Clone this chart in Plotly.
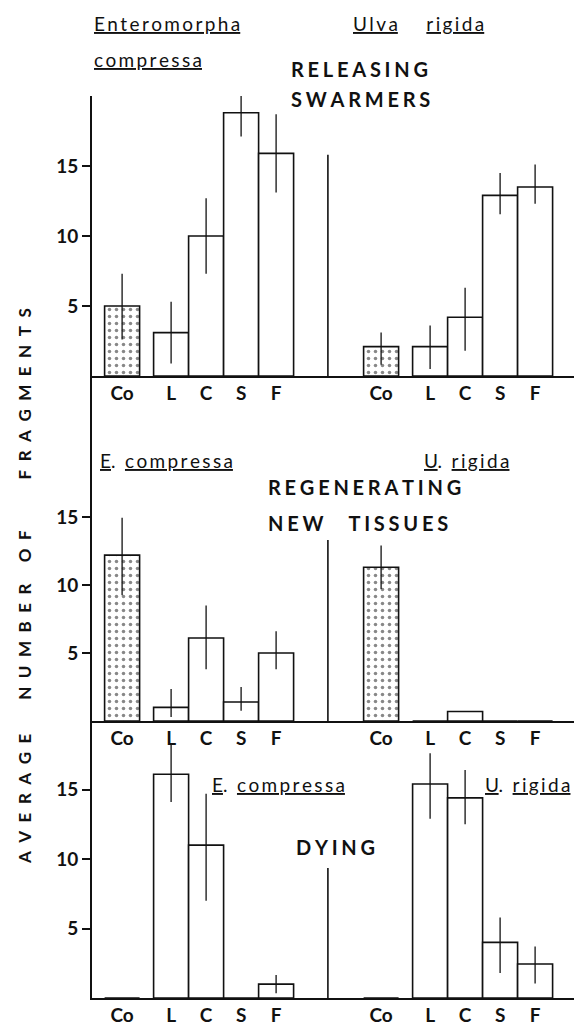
import plotly.graph_objects as go

# ---------------- data ----------------
categories = ["Co", "L", "C", "S", "F"]

# Panel 1: releasing swarmers
rel_ec = [5.0, 3.1, 10.0, 18.8, 15.9]
rel_ec_up = [2.3, 2.2, 2.7, 1.9, 2.8]
rel_ec_dn = [2.4, 2.2, 2.7, 1.7, 2.8]
rel_ur = [2.1, 2.1, 4.2, 12.9, 13.5]
rel_ur_up = [1.0, 1.5, 2.1, 1.6, 1.6]
rel_ur_dn = [1.3, 1.6, 2.4, 1.35, 1.2]

# Panel 2: regenerating new tissues
reg_ec = [12.2, 1.0, 6.1, 1.4, 5.0]
reg_ec_up = [2.75, 1.35, 2.4, 1.1, 1.6]
reg_ec_dn = [2.95, 0.7, 2.3, 0.64, 1.2]
reg_ur = [11.3, 0.0, 0.7, 0.0, 0.0]
reg_ur_up = [1.6, 0.0, 0.0, 0.0, 0.0]
reg_ur_dn = [1.6, 0.0, 0.0, 0.0, 0.0]

# Panel 3: dying
dy_ec = [0.0, 16.1, 11.0, 0.0, 1.0]
dy_ec_up = [0.0, 2.1, 3.7, 0.0, 0.65]
dy_ec_dn = [0.0, 2.0, 4.0, 0.0, 0.65]
dy_ur = [0.0, 15.4, 14.4, 4.0, 2.45]
dy_ur_up = [0.0, 2.2, 2.0, 1.8, 1.25]
dy_ur_dn = [0.0, 2.5, 1.9, 2.2, 1.4]

divider_heights = [15.8, 13.3, 9.35]
y_ticks = [5, 10, 15]
y_title_words = ["AVERAGE", "NUMBER", "OF", "FRAGMENTS"]

# ---------------- layout constants ----------------
OFF = 8                          # default page body margin
PAGE_W, PAGE_H = 582, 1030
W, H = PAGE_W - OFF, PAGE_H - OFF
AXIS_X = 92                      # page px of the y axis line
RIGHT_X = 574                    # page px of the right end of baselines
ML, MR = AXIS_X - OFF, W - (RIGHT_X - OFF)
PXU = 35.0                       # pixels per x unit (one bar width)
XMAX = (RIGHT_X - AXIS_X) / PXU
in_group = [0, 1.4, 2.4, 3.4, 4.4]
group_start = [0.86, 8.26]
sep_x = 6.74
pos_ec = [group_start[0] + o for o in in_group]
pos_ur = [group_start[1] + o for o in in_group]

FONT = "Lato"
BLACK = "#111111"


def py(p):
    return 1 - (p - OFF) / H


def pxp(p):
    return (p - AXIS_X) / (RIGHT_X - AXIS_X)


def spaced(s, sep="\u2009"):
    return sep.join(list(s))


panels = [
    dict(ec=(rel_ec, rel_ec_up, rel_ec_dn), ur=(rel_ur, rel_ur_up, rel_ur_dn),
         bottom=376, top_val=20.0, ppu=14.0),
    dict(ec=(reg_ec, reg_ec_up, reg_ec_dn), ur=(reg_ur, reg_ur_up, reg_ur_dn),
         bottom=721, top_px=376, ppu=13.6),
    dict(ec=(dy_ec, dy_ec_up, dy_ec_dn), ur=(dy_ur, dy_ur_up, dy_ur_dn),
         bottom=998, top_px=721, ppu=13.9),
]

fig = go.Figure()
pattern = ["."] + [""] * 4

layout_axes = {}
shapes = []
for i, p in enumerate(panels):
    k = "" if i == 0 else str(i + 1)
    xa, ya = "x" + k, "y" + k
    if "top_val" in p:
        top_val = p["top_val"]
        top_px = p["bottom"] - top_val * p["ppu"]
    else:
        top_px = p["top_px"]
        top_val = (p["bottom"] - top_px) / p["ppu"]
    for pos, (vals, up, dn) in ((pos_ec, p["ec"]), (pos_ur, p["ur"])):
        fig.add_trace(go.Bar(
            x=pos, y=vals, width=1.0, xaxis=xa, yaxis=ya,
            marker=dict(color="white", line=dict(color=BLACK, width=1.6),
                        pattern=dict(shape=pattern, fgcolor="#111111", bgcolor="white",
                                     size=7, solidity=0.2)),
            error_y=dict(type="data", symmetric=False, array=up, arrayminus=dn,
                         color=BLACK, thickness=1.3, width=0),
            showlegend=False, hoverinfo="skip"))
    shapes.append(dict(type="line", xref=xa, yref=ya, x0=sep_x, x1=sep_x,
                       y0=0, y1=divider_heights[i], line=dict(color=BLACK, width=1.6)))
    layout_axes["xaxis" + k] = dict(
        domain=[0, 1], anchor=ya, range=[0, XMAX], showline=True, linecolor=BLACK,
        linewidth=1.6, showgrid=False, zeroline=False, ticks="", ticklen=0,
        tickvals=pos_ec + pos_ur, ticktext=categories + categories,
        tickfont=dict(family=FONT, size=19, color=BLACK, weight="bold"),
        ticklabelstandoff=-1)
    layout_axes["yaxis" + k] = dict(
        domain=[py(p["bottom"]), py(top_px)], anchor=xa, range=[0, top_val],
        showline=True, linecolor=BLACK, linewidth=1.6, showgrid=False, zeroline=False,
        tickvals=y_ticks, ticktext=[str(t) for t in y_ticks], ticks="outside",
        ticklen=8, tickwidth=1.5, tickcolor=BLACK,
        tickfont=dict(family=FONT, size=19, color=BLACK, weight="bold"))

ann_font = dict(family=FONT, size=19, color=BLACK)
head_font = dict(family=FONT, size=20, color=BLACK)
HSEP = "\u2009\u200a"


def txt(text, xp, yp, font, xanchor="left"):
    return dict(text=text, x=pxp(xp), y=py(yp), xref="paper", yref="paper",
                xanchor=xanchor, yanchor="middle", showarrow=False, font=font)


annotations = [
    txt("<u>" + spaced("Enteromorpha") + "</u>", 92, 23, ann_font),
    txt("<u>" + spaced("compressa") + "</u>", 92, 59, ann_font),
    txt("<u>" + spaced("Ulva") + "</u>\u2003\u2003<u>" + spaced("rigida") + "</u>", 351, 23, ann_font),
    txt("<b>" + spaced("RELEASING", HSEP) + "</b>", 289, 69, head_font),
    txt("<b>" + spaced("SWARMERS", HSEP) + "</b>", 289, 99, head_font),

    txt("<u>E</u>.\u2002<u>" + spaced("compressa") + "</u>", 98, 460, ann_font),
    txt("<u>U</u>.\u2002<u>" + spaced("rigida") + "</u>", 422, 460, ann_font),
    txt("<b>" + spaced("REGENERATING", HSEP) + "</b>", 266, 487, head_font),
    txt("<b>" + spaced("NEW", HSEP) + "\u2003\u2002" + spaced("TISSUES", HSEP) + "</b>", 266, 523, head_font),

    txt("<u>E</u>.\u2002<u>" + spaced("compressa") + "</u>", 210, 784, ann_font),
    txt("<u>U</u>.\u2002<u>" + spaced("rigida") + "</u>", 483, 784, ann_font),
    txt("<b>" + spaced("DYING", HSEP) + "</b>", 294, 847, head_font),
]

w_sp = [spaced(w, "\u2002") for w in y_title_words]
ytitle = (w_sp[0] + "\u2003\u2003\u2002" + w_sp[1] + "\u2003\u2002" + w_sp[2]
          + "\u2003\u2003\u2003\u2003" + w_sp[3])
annotations.append(dict(text="<b>" + ytitle + "</b>", x=pxp(24), y=py(586), xref="paper",
                        yref="paper", textangle=-90, showarrow=False,
                        xanchor="center", yanchor="middle",
                        font=dict(family=FONT, size=17, color=BLACK)))

fig.update_layout(
    width=W, height=H, margin=dict(l=ML, r=MR, t=0, b=0),
    paper_bgcolor="white", plot_bgcolor="white", barmode="overlay",
    shapes=shapes, annotations=annotations, **layout_axes)

fig.write_html("out.html")
